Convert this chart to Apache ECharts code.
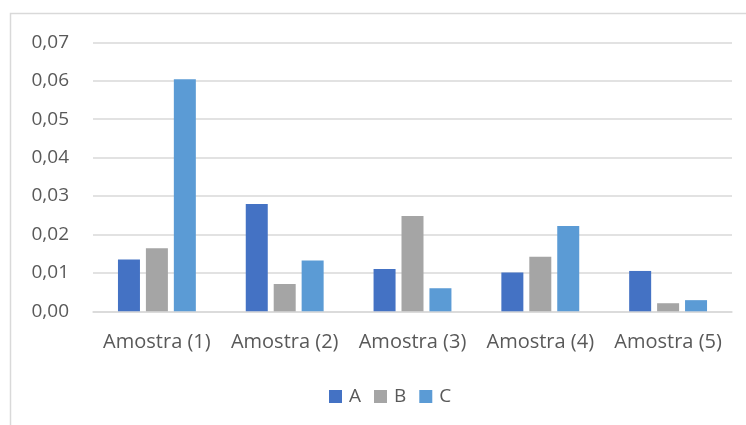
<!DOCTYPE html>
<html>
<head>
<meta charset="utf-8">
<script src="https://cdn.jsdelivr.net/npm/echarts@6/dist/echarts.min.js"></script>
<style>
  html, body { margin: 0; padding: 0; background: #ffffff; }
  #chart { width: 746px; height: 425px; }
</style>
</head>
<body>
<div id="chart"></div>
<script>
// Samples along the category axis
const categories = ['Amostra (1)', 'Amostra (2)', 'Amostra (3)', 'Amostra (4)', 'Amostra (5)'];

// Measured values per series
const seriesA = [0.0135, 0.0279, 0.0110, 0.0101, 0.0105];
const seriesB = [0.0164, 0.0071, 0.0248, 0.0142, 0.0021];
const seriesC = [0.0604, 0.0132, 0.0060, 0.0222, 0.0029];

const seriesNames = ['A', 'B', 'C'];
const seriesColors = ['#4472C4', '#A5A5A5', '#5B9BD5'];
const seriesValues = [seriesA, seriesB, seriesC];

const textColor = '#595959';
const fontFamily = '"Open Sans", "Noto Sans", sans-serif';
const gridColor = '#d9d9d9';

const chart = echarts.init(document.getElementById('chart'), null, { renderer: 'canvas' });

chart.setOption({
  animation: false,
  backgroundColor: '#ffffff',
  textStyle: { fontFamily: fontFamily },
  graphic: [{
    // Chart frame: only the top and left edges fall inside the view
    type: 'rect',
    shape: { x: 10.5, y: 13.5, width: 900, height: 600 },
    style: { fill: 'none', stroke: gridColor, lineWidth: 1.5 },
    silent: true,
    z: -10
  }],
  grid: {
    left: 93,
    right: 14,
    top: 42.3,
    bottom: 113.7,
    containLabel: false
  },
  legend: {
    left: 329,
    top: 387,
    padding: 0,
    itemWidth: 13,
    itemHeight: 13,
    itemGap: 13,
    icon: 'rect',
    data: seriesNames,
    textStyle: {
      color: textColor,
      fontSize: 19,
      fontFamily: fontFamily,
      padding: [0, 0, 0, 2]
    }
  },
  xAxis: {
    type: 'category',
    data: categories,
    axisTick: { show: false },
    axisLine: { show: true, lineStyle: { color: gridColor, width: 1.5 } },
    axisLabel: {
      color: textColor,
      fontSize: 20,
      margin: 21,
      interval: 0
    }
  },
  yAxis: {
    type: 'value',
    min: 0,
    max: 0.07,
    interval: 0.01,
    axisLine: { show: false },
    axisTick: { show: false },
    splitLine: { lineStyle: { color: gridColor, width: 1.5 } },
    axisLabel: {
      color: textColor,
      fontSize: 19,
      margin: 24,
      formatter: function (v) { return v.toFixed(2).replace('.', ','); }
    }
  },
  series: seriesNames.map(function (name, i) {
    return {
      name: name,
      type: 'bar',
      data: seriesValues[i],
      barWidth: 22,
      barGap: '27%',
      itemStyle: { color: seriesColors[i] }
    };
  })
});
</script>
</body>
</html>
